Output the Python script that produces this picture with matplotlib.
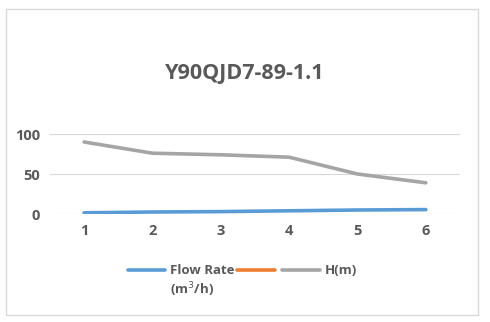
import numpy as np
import matplotlib.pyplot as plt
from matplotlib.patches import Rectangle
from matplotlib.lines import Line2D

# datos
puntos = [1, 2, 3, 4, 5, 6]
caudal = [1.5, 2.5, 3, 4, 5, 5.5]
serie_vacia = [np.nan] * 6
altura = [90, 76, 74, 71, 50, 39]

plt.rcParams['font.family'] = ['Open Sans', 'DejaVu Sans']
gris_texto = "#595959"
azul, naranja, gris = "#5B9BD5", "#ED7D31", "#A5A5A5"

fig = plt.figure(figsize=(4.9, 3.22), dpi=100)
fig.patches.append(Rectangle((6 / 490, 1 - 315 / 322), 472 / 490, 306 / 322,
                             transform=fig.transFigure, fill=False,
                             edgecolor="#d9d9d9", linewidth=1))

ax = fig.add_axes([50 / 490, 108 / 322, 410 / 490, 80 / 322])

ax.plot(puntos, caudal, color=azul, linewidth=2.6, solid_capstyle="round")
ax.plot(puntos, serie_vacia, color=naranja, linewidth=2.6)
ax.plot(puntos, altura, color=gris, linewidth=2.6, solid_capstyle="round")

ax.set_xlim(0.5, 6.5)
ax.set_ylim(0, 100)
ax.set_yticks([0, 50, 100])
ax.set_xticks(puntos)
ax.grid(axis="y", color="#d9d9d9", linewidth=0.8)
ax.set_axisbelow(True)
for lado in ["top", "right", "left", "bottom"]:
    ax.spines[lado].set_visible(False)
ax.tick_params(length=0, labelsize=10.5, labelcolor=gris_texto, pad=7)
for t in ax.get_xticklabels() + ax.get_yticklabels():
    t.set_fontweight("bold")

fig.text(0.5, 1 - 73 / 322, "Y90QJD7-89-1.1", ha="center", va="center",
         fontsize=15.5, fontweight="bold", color=gris_texto)

# leyenda a mano (texto de dos líneas alineado arriba, como en Excel)
y_ley = 1 - 270 / 322
entradas = [(128, 165, azul, "Flow Rate\n(m$^3$/h)"),
            (237, 275, naranja, ""),
            (282, 320, gris, "H(m)")]
for x0, x1, color, texto in entradas:
    fig.add_artist(Line2D([x0 / 490, x1 / 490], [y_ley, y_ley], color=color,
                          linewidth=2.6, solid_capstyle="round",
                          transform=fig.transFigure))
    if texto:
        fig.text((x1 + 5) / 490, y_ley + 6 / 322, texto, ha="left", va="top",
                 fontsize=9.5, fontweight="bold", color=gris_texto,
                 linespacing=1.25)

fig.savefig("out.png", dpi=100)
